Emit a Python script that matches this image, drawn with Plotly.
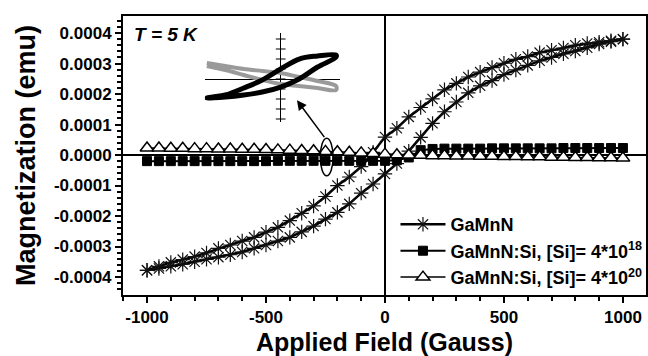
import plotly.graph_objects as go

# ---------------- data ----------------
field = [-1000, -950, -900, -850, -800, -750, -700, -650, -600, -550, -500,
         -450, -400, -350, -300, -250, -200, -150, -100, -50, 0,
         50, 100, 150, 200, 250, 300, 350, 400, 450, 500,
         550, 600, 650, 700, 750, 800, 850, 900, 950, 1000]

# GaMnN hysteresis loop (emu): ascending branch and descending branch
gamnn_up = [-0.000378, -0.000372, -0.000365, -0.000358, -0.000350, -0.000342, -0.000335,
            -0.000327, -0.000318, -0.000306, -0.000295, -0.000282, -0.000270, -0.000252,
            -0.000233, -0.000210, -0.000188, -0.000160, -0.000125, -0.000095, -0.000062,
            -0.000028, 0.000013, 0.000058, 0.000104, 0.000142, 0.000174, 0.000204,
            0.000227, 0.000244, 0.000264, 0.000279, 0.000294, 0.000309, 0.000320,
            0.000332, 0.000341, 0.000352, 0.000364, 0.000372, 0.000380]
gamnn_down = [-0.000378, -0.000365, -0.000352, -0.000343, -0.000333, -0.000321, -0.000306,
              -0.000295, -0.000282, -0.000270, -0.000253, -0.000237, -0.000215, -0.000191,
              -0.000167, -0.000136, -0.000100, -0.000072, -0.000038, 0.000009, 0.000059,
              0.000088, 0.000125, 0.000156, 0.000184, 0.000214, 0.000235, 0.000256,
              0.000272, 0.000287, 0.000301, 0.000314, 0.000323, 0.000336, 0.000344,
              0.000351, 0.000360, 0.000366, 0.000370, 0.000375, 0.000380]

# GaMnN:Si, [Si] = 4*10^18
si18 = [-0.000020, -0.000020, -0.000020, -0.000020, -0.000020, -0.000020, -0.000020,
        -0.000020, -0.000020, -0.000020, -0.000020, -0.000019, -0.000019, -0.000019,
        -0.000019, -0.000019, -0.000019, -0.000019, -0.000019, -0.000019, -0.000019,
        -0.000017, -0.000008, 0.000016, 0.000020, 0.000021, 0.000021, 0.000021,
        0.000021, 0.000022, 0.000022, 0.000022, 0.000022, 0.000022, 0.000022,
        0.000023, 0.000023, 0.000023, 0.000023, 0.000023, 0.000023]

# GaMnN:Si, [Si] = 4*10^20
si20 = [0.000023, 0.000023, 0.000022, 0.000022, 0.000021, 0.000021, 0.000020,
        0.000020, 0.000019, 0.000019, 0.000018, 0.000017, 0.000016, 0.000015,
        0.000014, 0.000012, 0.000011, 0.000009, 0.000007, 0.000005, 0.000003,
        0.000001, 0.000000, -0.000001, -0.000002, -0.000002, -0.000003, -0.000003,
        -0.000004, -0.000004, -0.000005, -0.000005, -0.000006, -0.000006, -0.000007,
        -0.000007, -0.000008, -0.000008, -0.000009, -0.000009, -0.000010]

# inset (magnified loops of the Si-doped samples)
inset_field = [-1000, -750, -500, -250, 0, 250, 500, 750]
inset_sq_up = [-0.000019, -0.000018, -0.000016, -0.000013, -0.000008, 0.000000, 0.000012, 0.000022]
inset_sq_down = [-0.000019, -0.000016, -0.000009, -0.000001, 0.000010, 0.000020, 0.000023, 0.000024]
inset_tri_up = [0.000013, 0.000009, 0.000004, -0.000001, -0.000005, -0.000007, -0.000009, -0.000011]
inset_tri_down = [0.000016, 0.000013, 0.000010, 0.000008, 0.000006, 0.000002, -0.000002, -0.000007]
inset_ticks = [-0.00004, -0.00003, -0.00002, -0.00001, 0.0, 0.00001, 0.00002, 0.00003, 0.00004]

x_tickvals = [-1000, -500, 0, 500, 1000]
x_ticktext = ["-1000", "-500", "0", "500", "1000"]
y_tickvals = [-0.0004, -0.0003, -0.0002, -0.0001, 0.0, 0.0001, 0.0002, 0.0003, 0.0004]
y_ticktext = ["-0.0004", "-0.0003", "-0.0002", "-0.0001", "0.0000",
              "0.0001", "0.0002", "0.0003", "0.0004"]

names = ["GaMnN",
         "GaMnN:Si, [Si]= 4*10<sup>18</sup>",
         "GaMnN:Si, [Si]= 4*10<sup>20</sup>"]

# ---------------- figure ----------------
FONT = "Arial, Liberation Sans, sans-serif"
fig = go.Figure()

fig.add_trace(go.Scatter(
    x=field + field[::-1], y=gamnn_up + gamnn_down[::-1],
    name=names[0], mode="lines+markers",
    line=dict(color="black", width=2.5),
    marker=dict(symbol="asterisk-open", size=12, color="#111",
                line=dict(color="#111", width=1.2)),
))
fig.add_trace(go.Scatter(
    x=field, y=si18, name=names[1], mode="lines+markers",
    line=dict(color="black", width=2),
    marker=dict(symbol="square", size=9, color="black",
                line=dict(color="black", width=1)),
))
fig.add_trace(go.Scatter(
    x=field, y=si20, name=names[2], mode="lines+markers",
    line=dict(color="black", width=1.5),
    marker=dict(symbol="triangle-up", size=12, color="white",
                line=dict(color="black", width=1.5)),
))

# inset traces
fig.add_trace(go.Scatter(
    x=inset_field + inset_field[::-1], y=inset_tri_up + inset_tri_down[::-1],
    mode="lines", line=dict(color="#9a9a9a", width=4, shape="spline"),
    xaxis="x2", yaxis="y2", showlegend=False, hoverinfo="skip"))
fig.add_trace(go.Scatter(
    x=inset_field + inset_field[::-1], y=inset_sq_up + inset_sq_down[::-1],
    mode="lines", line=dict(color="black", width=5, shape="spline"),
    xaxis="x2", yaxis="y2", showlegend=False, hoverinfo="skip"))
fig.add_trace(go.Scatter(
    x=[0] * len(inset_ticks), y=inset_ticks, mode="markers",
    marker=dict(symbol="line-ew-open", size=7, color="black",
                line=dict(color="black", width=1.2)),
    xaxis="x2", yaxis="y2", showlegend=False, hoverinfo="skip"))

axis_common = dict(
    showline=True, linecolor="black", linewidth=2, mirror=True,
    ticks="outside", ticklen=6, tickwidth=1.5, tickcolor="black",
    showgrid=False, zeroline=True, zerolinecolor="black", zerolinewidth=1.5,
    tickfont=dict(family=FONT, size=17, color="black", weight="bold"),
)

fig.update_layout(
    width=648, height=356,
    margin=dict(l=123, r=1, t=16, b=61),
    paper_bgcolor="white", plot_bgcolor="white",
    xaxis=dict(
        range=[-1101, 1097], tickmode="array", tickvals=x_tickvals, ticktext=x_ticktext,
        minor=dict(tickmode="linear", tick0=0, dtick=100, ticks="outside", ticklen=4,
                   tickwidth=1.5, tickcolor="black"),
        title=dict(text="Applied Field (Gauss)", standoff=7,
                   font=dict(family=FONT, size=25, color="black", weight="bold")),
        **axis_common),
    yaxis=dict(
        range=[-0.000459, 0.000456], tickmode="array", tickvals=y_tickvals, ticktext=y_ticktext,
        minor=dict(tickmode="linear", tick0=0, dtick=0.00002, ticks="outside", ticklen=4,
                   tickwidth=1.5, tickcolor="black"),
        title=dict(text="Magnetization (emu)", standoff=10,
                   font=dict(family=FONT, size=27, color="black", weight="bold")),
        **axis_common),
    xaxis2=dict(domain=[0.1565, 0.414], range=[-1027, 797], anchor="y2",
                showgrid=False, showticklabels=False, ticks="", showline=False,
                zeroline=True, zerolinecolor="black", zerolinewidth=1.2),
    yaxis2=dict(domain=[0.620, 0.939], range=[-0.000043, 0.000046], anchor="x2",
                showgrid=False, showticklabels=False, ticks="", showline=False,
                zeroline=True, zerolinecolor="black", zerolinewidth=1.2),
    legend=dict(x=0.52, y=-0.004, xanchor="left", yanchor="bottom",
                bgcolor="rgba(0,0,0,0)", borderwidth=0, itemwidth=45,
                font=dict(family=FONT, size=18, color="black", weight="bold")),
    showlegend=True,
)

fig.add_annotation(
    x=0.017, y=0.932, xref="paper", yref="paper", xanchor="left", yanchor="middle",
    text="<b><i>T = 5 K</i></b>", showarrow=False,
    font=dict(family=FONT, size=19, color="black"))

# ellipse marking the zoomed region and arrow to the inset
fig.add_shape(type="circle", xref="x", yref="y",
              x0=-272, x1=-218, y0=-0.000068, y1=0.000055,
              line=dict(color="black", width=1.5))
fig.add_annotation(
    x=-370, y=0.00018, ax=-250, ay=0.000054, xref="x", yref="y", axref="x", ayref="y",
    showarrow=True, arrowhead=2, arrowsize=1.3, arrowwidth=1.5, arrowcolor="black", text="")

fig.write_html("out.html")
